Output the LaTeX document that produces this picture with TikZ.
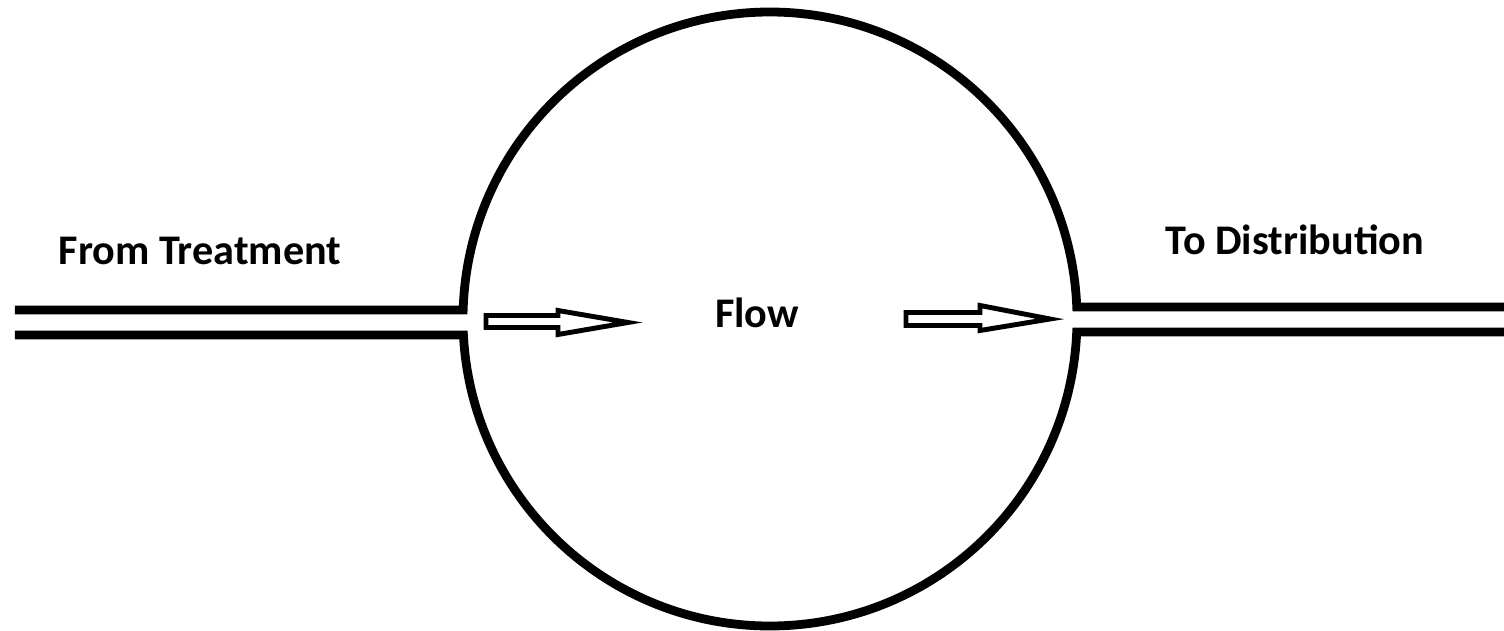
\documentclass[tikz,border=0pt]{standalone}
\usepackage{fontspec}
\setmainfont{Carlito}
\begin{document}
\begin{tikzpicture}[x=0.01cm, y=0.01cm,
    pipe/.style={line width=2.5pt, line join=miter},
    flowarrow/.style={line width=1.4pt, line join=miter},
    lbl/.style={font=\fontsize{12}{14}\selectfont\bfseries, anchor=base, inner sep=0pt}]
    \useasboundingbox (-770,-312) rectangle (734,319);
    % 1. Tank and pipes (one path above, one below)
    \coordinate (O) at (0,0);
    \coordinate (inU) at (178.32:307);
    \coordinate (inL) at (183.0:307);
    \coordinate (outU) at (2.24:307);
    \coordinate (outL) at (-2.43:307);
    \coordinate (inU0) at (-755,9);
    \coordinate (inL0) at (-755,-16);
    \coordinate (outU1) at (734,12);
    \coordinate (outL1) at (734,-13);
    \draw[pipe] (inU0) -- (inU) arc (178.32:2.24:307) -- (outU1);
    \draw[pipe] (inL0) -- (inL) arc (183.0:357.57:307) -- (outL1);

    % 2. Flow arrows
    \draw[flowarrow] (-284,3.5) -- (-212,3.5) -- (-212,8.5) -- (-142,-3.5)
        -- (-212,-15.5) -- (-212,-8.5) -- (-284,-8.5) -- cycle;
    \draw[flowarrow] (136,6.5) -- (210,6.5) -- (210,13.5) -- (280,0)
        -- (210,-11.5) -- (210,-6.5) -- (136,-6.5) -- cycle;

    % 3. Labels
    \node[lbl] (from) at (-570,54) {From Treatment};
    \node[lbl] (to) at (525,64) {To Distribution};
    \node[lbl] (flow) at (-13,-9) {Flow};
\end{tikzpicture}
\end{document}
